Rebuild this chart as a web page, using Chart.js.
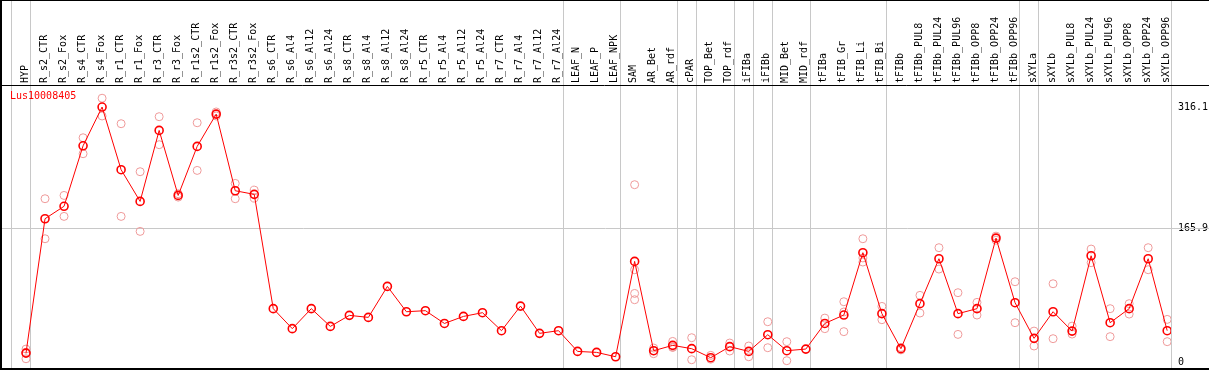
<!DOCTYPE html>
<html>
<head>
<meta charset="utf-8">
<script src="https://cdn.jsdelivr.net/npm/chart.js@4"></script>
<style>
  body { margin: 0; background: #fff; }
  canvas { display: block; }
</style>
</head>
<body>
<canvas id="grafico" width="1209" height="370"></canvas>
<script>
var geneName = 'Lus10008405';

var categorias = [
    'HYP', 'R_s2_CTR', 'R_s2_Fox', 'R_s4_CTR', 'R_s4_Fox', 'R_r1_CTR', 'R_r1_Fox', 'R_r3_CTR', 'R_r3_Fox',
    'R_r1s2_CTR', 'R_r1s2_Fox', 'R_r3s2_CTR', 'R_r3s2_Fox',
    'R_s6_CTR', 'R_s6_Al4', 'R_s6_Al12', 'R_s6_Al24',
    'R_s8_CTR', 'R_s8_Al4', 'R_s8_Al12', 'R_s8_Al24',
    'R_r5_CTR', 'R_r5_Al4', 'R_r5_Al12', 'R_r5_Al24',
    'R_r7_CTR', 'R_r7_Al4', 'R_r7_Al12', 'R_r7_Al24',
    'LEAF_N', 'LEAF_P', 'LEAF_NPK', 'SAM', 'AR_Bet', 'AR_rdf', 'cPAR', 'TOP_Bet', 'TOP_rdf',
    'iFIBa', 'iFIBb', 'MID_Bet', 'MID_rdf', 'tFIBa', 'tFIB_Gr', 'tFIB_Li', 'tFIB_Bi',
    'tFIBb', 'tFIBb_PUL8', 'tFIBb_PUL24', 'tFIBb_PUL96', 'tFIBb_OPP8', 'tFIBb_OPP24', 'tFIBb_OPP96',
    'sXYLa', 'sXYLb', 'sXYLb_PUL8', 'sXYLb_PUL24', 'sXYLb_PUL96', 'sXYLb_OPP8', 'sXYLb_OPP24', 'sXYLb_OPP96'
];

// media de cada amostra
var medias = [
    11, 177.6, 193, 268, 316.1, 238.4, 199.1, 287.1, 206.5,
    267.3, 307.3, 212.3, 207.8,
    66.1, 41.3, 66.1, 44.1,
    57.8, 55.3, 93.7, 62.3,
    63.6, 47.8, 56.5, 61.1,
    38.8, 69.3, 35.5, 38.8,
    13.1, 11.9, 6.5, 124.7, 14.0, 20.6, 16.5, 5.3, 19.0,
    13.1, 33.8, 14.0, 16.0, 47.8, 58.2, 135.5, 59.9,
    16.5, 72.3, 128.0, 59.9, 66.1, 153.6, 73.5,
    29.3, 62.3, 38.3, 131.7, 48.7, 66.1, 128.0, 38.8
];

// replicas (null = sem replica visivel)
var rep1 = [
    16, 202.4, 206.5, 278, 327, 295.4, 235.9, 304.1, 208.6,
    296.6, 310, 221.4, 213.1,
    null, null, null, null, null, null, null, null,
    null, null, null, null, null, null, null, null,
    null, null, null, 219.8, 17.3, 25.5, 30.1, 8.2, 23.5,
    19.8, 49.9, 25.2, null, 54.4, 74.7, 152.8, 68.9,
    18, 82.6, 141.7, 85.9, 73.9, 156, 99.5,
    38.3, 97.0, 44.5, 140.0, 66.1, 72.3, 141.7, 52.8
];
var rep2 = [
    12, 152.8, 180.5, 258.2, 305, 180.5, 161.9, 269.4, 204.4,
    237.5, 305, 202.4, 203.2,
    null, null, null, null, null, null, null, null,
    null, null, null, null, null, null, null, null,
    null, null, null, 114.4, 10.3, 18.5, 2.8, 3.5, 13.6,
    6.5, 17.7, 1.6, null, 41.3, 62, 123.9, 52.4,
    15, 60.7, 115.2, 34.2, 58.2, 151, 48.7,
    19.8, 28.9, 34.6, 123.1, 31.4, 59.4, 114.4, 25.2
];
var rep3 = [
    4, null, null, null, null, null, null, null, null,
    null, null, null, null,
    null, null, null, null, null, null, null, null,
    null, null, null, null, null, null, null, null,
    null, null, null, 85.0, 14, 18, null, null, null,
    null, null, null, null, null, 37.6, 129, null,
    null, null, null, null, null, null, null,
    null, null, null, null, null, null, null, null
];
var rep4 = [
    null, null, null, null, null, null, null, null, null,
    null, null, null, null,
    null, null, null, null, null, null, null, null,
    null, null, null, null, null, null, null, null,
    null, null, null, 77.2, null, null, null, null, null,
    null, null, null, null, null, null, null, null,
    null, null, null, null, null, null, null,
    null, null, null, null, null, null, null, null
];

var yTicks = [0, 165.9, 316.1];

// ultima amostra de cada grupo (-1 = antes da primeira)
var fimDeGrupo = [-1, 0, 28, 31, 34, 35, 37, 38, 39, 41, 45, 52, 53, 60];

var fonte = '"DejaVu Sans Mono", monospace';

function pontos(valores) {
    var out = [];
    valores.forEach(function (v, i) {
        if (v !== null) out.push({ x: i, y: v });
    });
    return out;
}

var corReplica = '#ef9a9a';

function datasetReplica(valores) {
    return {
        data: pontos(valores),
        showLine: false,
        pointRadius: 4,
        pointBorderWidth: 1,
        pointBorderColor: corReplica,
        pointBackgroundColor: 'rgba(0,0,0,0)'
    };
}

var moldura = {
    id: 'moldura',
    beforeDatasetsDraw: function (chart) {
        const ctx = chart.ctx;
        const x = chart.scales.x;
        const y = chart.scales.y;
        const area = chart.chartArea;
        ctx.save();
        ctx.strokeStyle = '#c8c8c8';
        ctx.lineWidth = 1;
        fimDeGrupo.forEach(function (i) {
            const px = Math.round(x.getPixelForValue(i + 0.21)) + 0.5;
            ctx.beginPath();
            ctx.moveTo(px, 0);
            ctx.lineTo(px, chart.height);
            ctx.stroke();
        });
        const py = Math.round(y.getPixelForValue(165.9)) + 0.5;
        ctx.beginPath();
        ctx.moveTo(area.left, py);
        ctx.lineTo(chart.width, py);
        ctx.stroke();

        ctx.strokeStyle = '#000';
        ctx.beginPath();
        ctx.moveTo(0, area.top + 0.5);
        ctx.lineTo(chart.width, area.top + 0.5);
        ctx.stroke();
        ctx.restore();
    },
    afterDraw: function (chart) {
        const ctx = chart.ctx;
        const area = chart.chartArea;
        ctx.save();
        ctx.fillStyle = '#000';
        ctx.fillRect(0, 0, chart.width, 1);
        ctx.fillRect(0, 0, 2, chart.height);
        ctx.fillRect(0, chart.height - 2, chart.width, 2);
        ctx.fillStyle = '#ff0000';
        ctx.font = '10px ' + fonte;
        ctx.textBaseline = 'top';
        ctx.fillText(geneName, area.left + 8, area.top + 6);
        ctx.restore();
    }
};

document.addEventListener('DOMContentLoaded', function () {
    const ctx = document.getElementById('grafico').getContext('2d');

    new Chart(ctx, {
        type: 'scatter',
        data: {
            datasets: [
                {
                    data: pontos(medias),
                    showLine: true,
                    borderColor: '#ff0000',
                    borderWidth: 1,
                    pointRadius: 4,
                    pointBorderWidth: 1.6,
                    pointBorderColor: '#ff0000',
                    pointBackgroundColor: 'rgba(0,0,0,0)'
                },
                datasetReplica(rep1),
                datasetReplica(rep2),
                datasetReplica(rep3),
                datasetReplica(rep4)
            ]
        },
        options: {
            responsive: false,
            animation: false,
            layout: { autoPadding: false, padding: { left: 2, top: 2, right: 1, bottom: 1 } },
            scales: {
                x: {
                    type: 'linear',
                    position: 'top',
                    min: -1.262,
                    max: 60.2,
                    grid: { display: false, drawTicks: false },
                    border: { display: false },
                    afterBuildTicks: function (scale) {
                        scale.ticks = categorias.map(function (c, i) { return { value: i }; });
                    },
                    afterFit: function (scale) {
                        scale.height = 83;
                        scale.paddingLeft = 0;
                        scale.paddingRight = 0;
                    },
                    ticks: {
                        autoSkip: false,
                        minRotation: 90,
                        maxRotation: 90,
                        padding: 2,
                        labelOffset: 11,
                        color: '#000',
                        font: { family: fonte, size: 10 },
                        callback: function (v) { return categorias[v]; }
                    }
                },
                y: {
                    type: 'linear',
                    position: 'right',
                    min: -8.7,
                    max: 343.4,
                    grid: { display: false, drawTicks: false },
                    border: { display: false },
                    afterBuildTicks: function (scale) {
                        scale.ticks = yTicks.map(function (v) { return { value: v }; });
                    },
                    afterFit: function (scale) {
                        scale.width = 37;
                        scale.paddingTop = 0;
                        scale.paddingBottom = 0;
                    },
                    ticks: {
                        padding: 7,
                        color: '#000',
                        font: { family: fonte, size: 10 },
                        callback: function (v) { return String(v); }
                    }
                }
            },
            plugins: {
                legend: { display: false },
                tooltip: { enabled: false }
            }
        },
        plugins: [moldura]
    });
});
</script>
</body>
</html>
